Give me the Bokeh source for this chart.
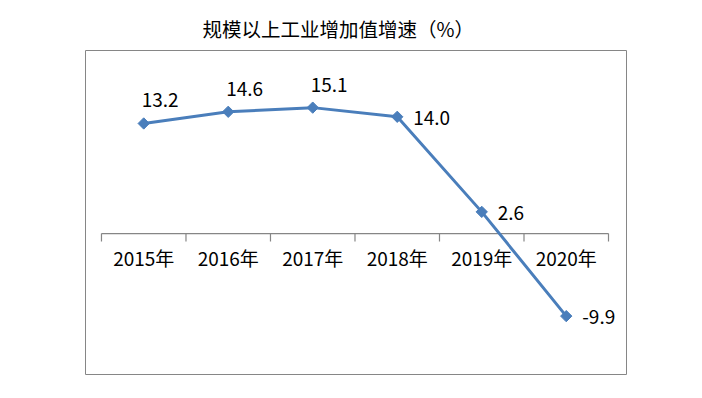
import math
from bokeh.plotting import figure
from bokeh.models import ColumnDataSource, Range1d
from bokeh.core.properties import value
from bokeh.embed import file_html
from bokeh.resources import INLINE

title_text = "规模以上工业增加值增速（%）"
categories = ["2015年", "2016年", "2017年", "2018年", "2019年", "2020年"]
growth = [13.2, 14.6, 15.1, 14.0, 2.6, -9.9]
value_labels = ["13.2", "14.6", "15.1", "14.0", "2.6", "-9.9"]

FONT_NAME = "Noto Sans CJK SC"
FONT = value(FONT_NAME)
LINE_COLOR = "#4A7EBB"
AXIS_COLOR = "#868686"

n = len(categories)
xs = [i + 0.5 for i in range(n)]

p = figure(width=694, height=390, output_backend="svg", toolbar_location=None,
           x_axis_type=None, y_axis_type=None,
           x_range=Range1d(-0.189, 6.213), y_range=Range1d(-16.9, 21.95),
           min_border_left=85, min_border_right=68, min_border_top=50, min_border_bottom=16)
p.grid.visible = False
p.outline_line_color = AXIS_COLOR
p.outline_line_width = 1
p.background_fill_color = "white"
p.border_fill_color = "white"

p.title.text = title_text
p.title.text_font = FONT_NAME
p.title.text_font_size = "19.5px"
p.title.text_font_style = "normal"
p.title.text_color = "black"
p.title.align = "left"
p.title.offset = 117
p.title.standoff = 16

# category axis at y = 0
p.line([0, n], [0, 0], line_color=AXIS_COLOR, line_width=1.2)
p.ray(x=list(range(n + 1)), y=[0] * (n + 1), length=8, length_units="screen",
      angle=-math.pi / 2, line_color=AXIS_COLOR, line_width=1.2)
p.text(x=xs, y=[0] * n, text=categories, text_font=FONT, text_font_size="19px",
       text_align="center", text_baseline="middle", y_offset=24, text_color="black")

src = ColumnDataSource(dict(x=xs, y=growth, lab=value_labels))
p.line("x", "y", source=src, line_color=LINE_COLOR, line_width=3)
p.scatter("x", "y", source=src, marker="square", angle=math.pi / 4, size=8,
          fill_color=LINE_COLOR, line_color=LINE_COLOR)

above = ColumnDataSource(dict(x=xs[:3], y=growth[:3], lab=value_labels[:3]))
right = ColumnDataSource(dict(x=xs[3:], y=growth[3:], lab=value_labels[3:]))
p.text("x", "y", text="lab", source=above, text_font=FONT, text_font_size="19px",
       text_align="left", text_baseline="middle", x_offset=-2, y_offset=-23, text_color="black")
p.text("x", "y", text="lab", source=right, text_font=FONT, text_font_size="19px",
       text_align="left", text_baseline="middle", x_offset=16, y_offset=1, text_color="black")

open("out.html", "w").write(file_html(p, INLINE))
